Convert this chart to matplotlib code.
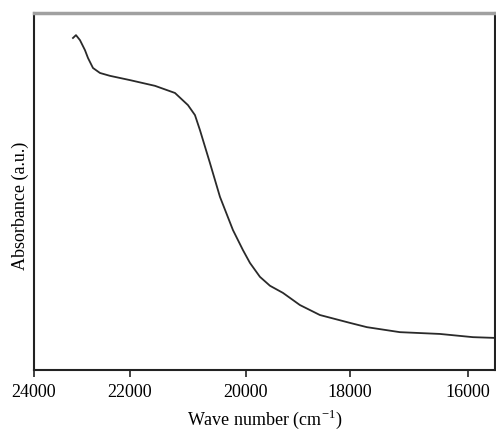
import matplotlib
matplotlib.use("Agg")
import matplotlib.pyplot as plt
import numpy as np

# wave number (cm^-1) and absorbance
wave_number = [23188, 23125, 23042, 22938, 22875, 22771, 22625, 22417, 22000,
               21569, 21224, 21000, 20879, 20793, 20621, 20448, 20224, 20052,
               19923, 19731, 19538, 19288, 19096, 18962, 18577, 18000, 17712,
               17153, 16475, 15915, 15559]
absorbance = [0.930, 0.938, 0.924, 0.896, 0.874, 0.846, 0.832, 0.824, 0.812,
              0.796, 0.776, 0.742, 0.714, 0.672, 0.580, 0.485, 0.392, 0.336,
              0.300, 0.261, 0.236, 0.216, 0.196, 0.182, 0.154, 0.132, 0.120,
              0.106, 0.101, 0.092, 0.090]

tick_values = [24000, 22000, 20000, 18000, 16000]
tick_labels = ["24000", "22000", "20000", "18000", "16000"]

# the original axis is not evenly spaced, map ticks to where they sit
scale_wn = [14000, 16000, 18000, 20000, 22000, 24000, 26000]
scale_px = [-552, -434, -316, -212, -96, 0, 96]


def forward(x):
    return np.interp(x, scale_wn, scale_px)


def inverse(p):
    return np.interp(p, scale_px, scale_wn)


plt.rcParams['font.family'] = ['Liberation Serif', 'DejaVu Serif']

fig = plt.figure(figsize=(4.96, 4.30), dpi=100)
ax = fig.add_axes([34 / 496, 1 - 370 / 430, 461 / 496, 357 / 430])

ax.plot(wave_number, absorbance, color='#2a2a2a', lw=1.3)

ax.set_xscale('function', functions=(forward, inverse))
ax.set_xlim(24000, 15540)
ax.set_ylim(0, 1)

ax.set_xticks(tick_values)
ax.set_xticklabels(tick_labels, fontsize=13)
ax.set_yticks([])
ax.tick_params(axis='x', direction='out', length=5, width=1.2, pad=5, color='#222222')
ax.xaxis.set_minor_locator(matplotlib.ticker.NullLocator())

ax.set_xlabel(r'Wave number (cm$^{\mathregular{-1}}$)', fontsize=13, labelpad=5)
ax.set_ylabel('Absorbance (a.u.)', fontsize=13)
ax.yaxis.set_label_coords(-0.01, 0.46)

for side in ['left', 'bottom', 'right']:
    ax.spines[side].set_color('#222222')
    ax.spines[side].set_linewidth(1.5)
ax.spines['top'].set_color('#a0a0a0')
ax.spines['top'].set_linewidth(2.5)

fig.savefig('out.png', dpi=100)
